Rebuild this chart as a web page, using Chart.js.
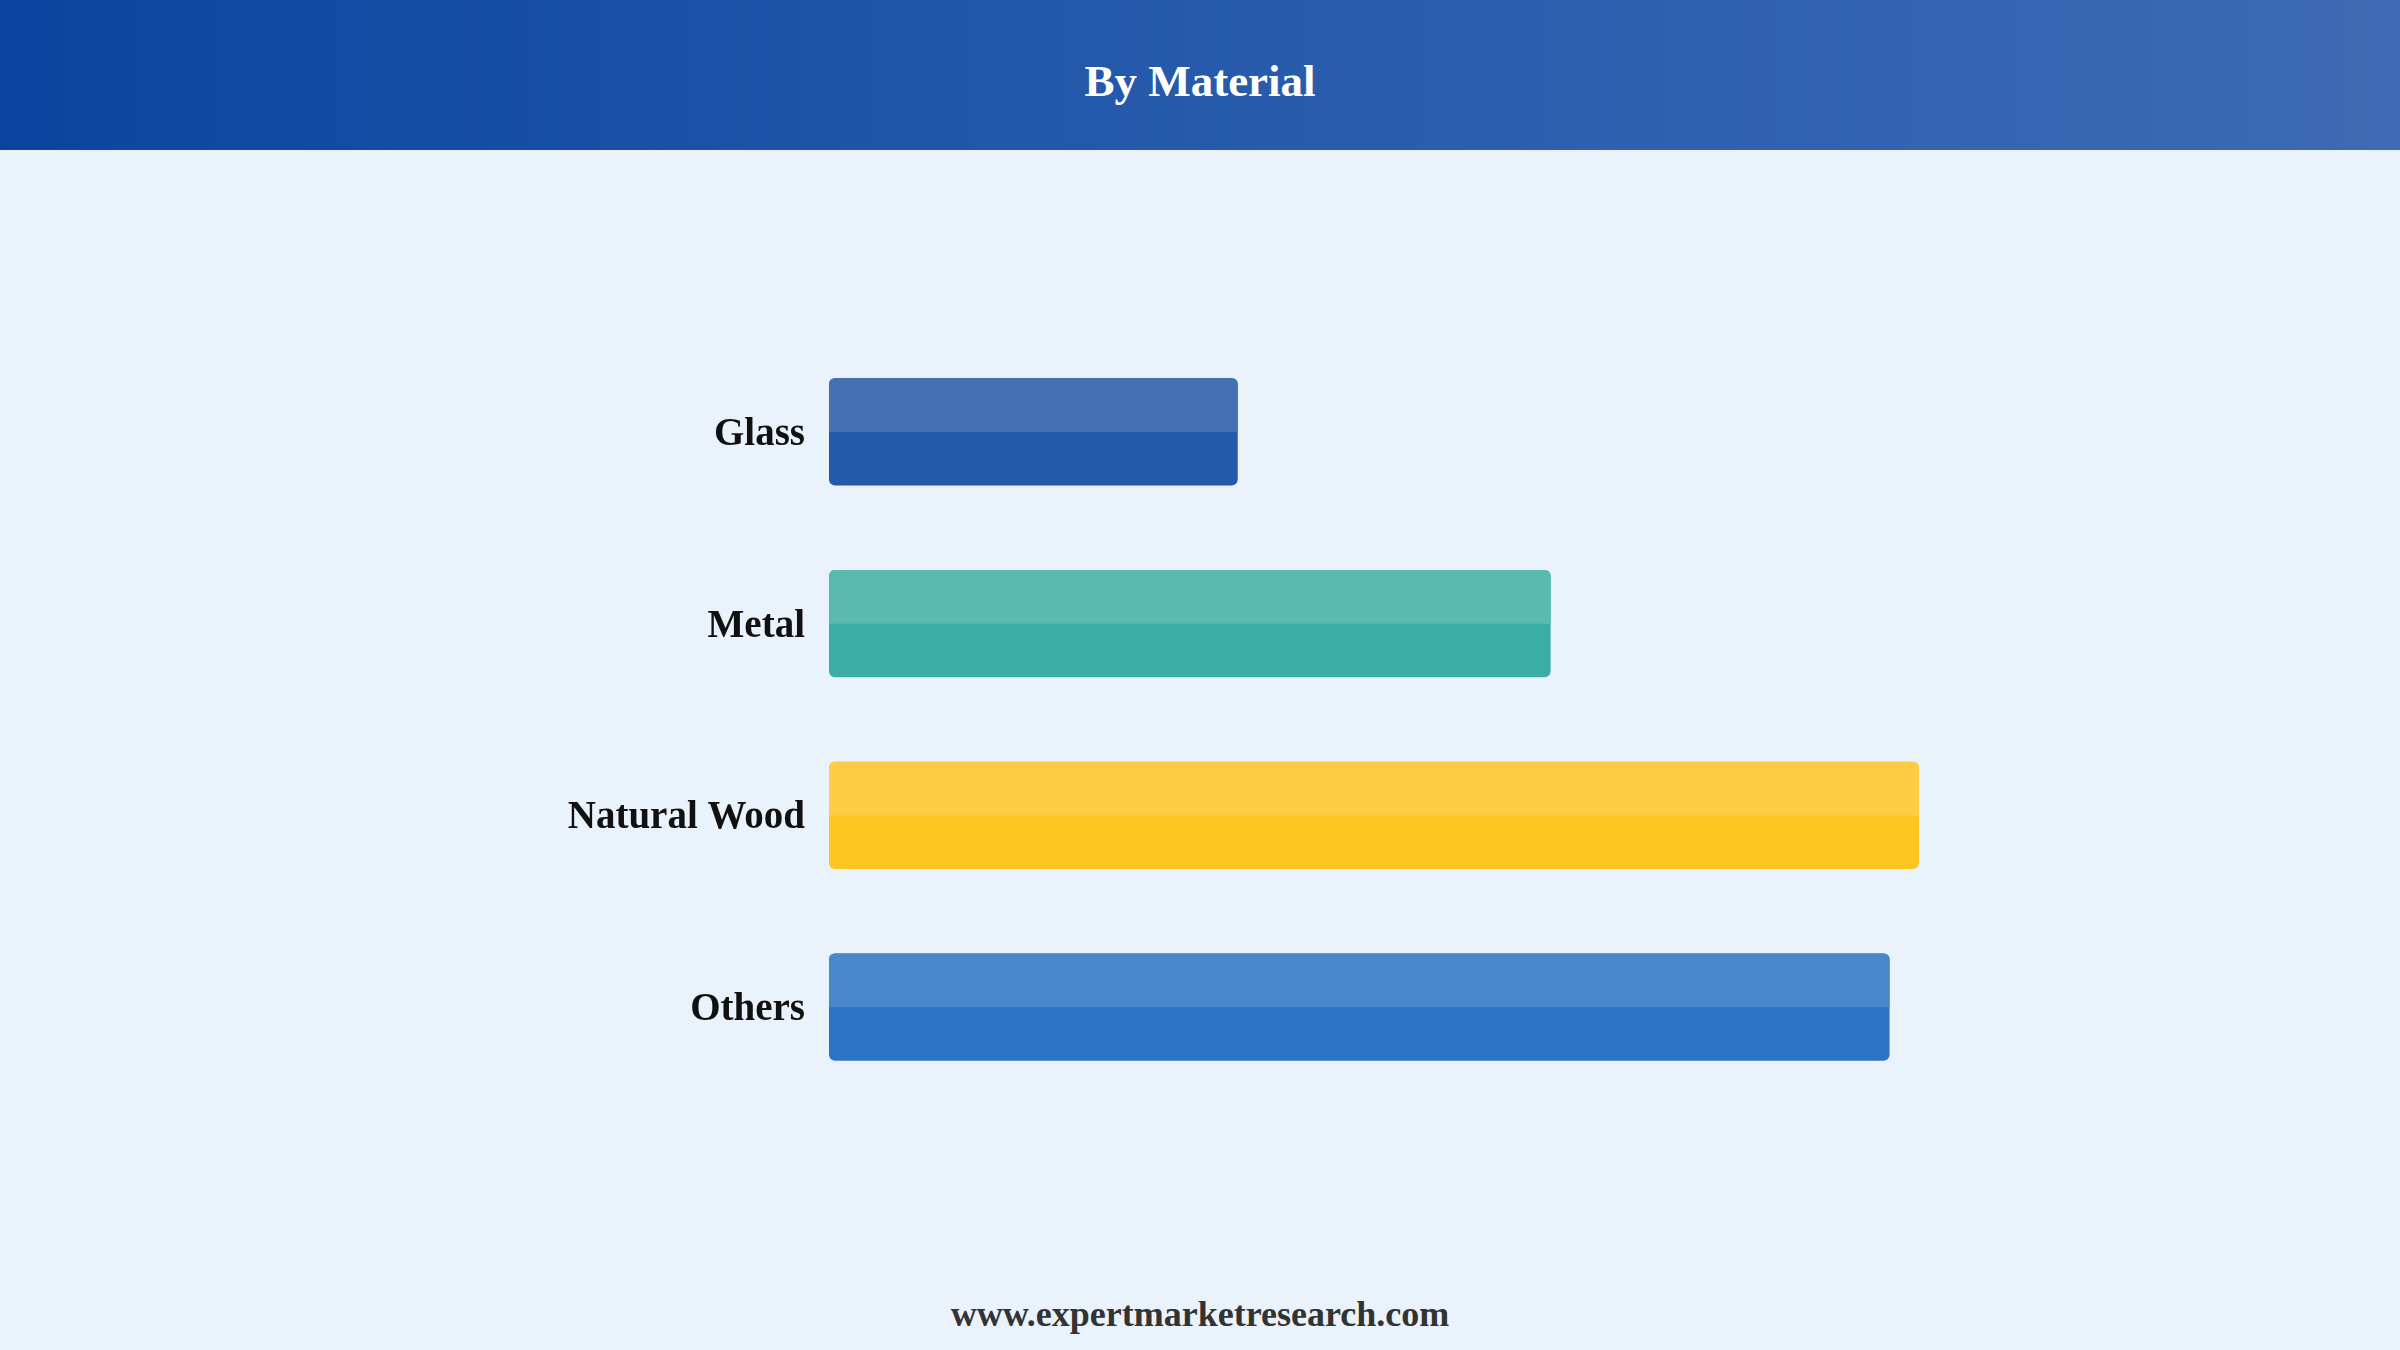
<!DOCTYPE html>
<html>
<head>
<meta charset="utf-8">
<title>By Material</title>
<script src="https://cdn.jsdelivr.net/npm/chart.js@4"></script>
<style>
	html, body {
		margin: 0;
		padding: 0;
		width: 2400px;
		height: 1350px;
		overflow: hidden;
		background: #eaf2fc;
		font-family: "Liberation Serif", "Times New Roman", serif;
	}
	.header {
		position: absolute;
		left: 0;
		top: 0;
		width: 2400px;
		height: 150px;
		background: linear-gradient(to right, #0b44a0, #2458aa 45%, #3d6bb4);
		color: #fff;
		font-weight: bold;
		font-size: 45px;
		line-height: 162px;
		text-align: center;
	}
	#chartBox {
		position: absolute;
		left: 0;
		top: 150px;
	}
	.footer {
		position: absolute;
		left: 0;
		top: 1291px;
		width: 2400px;
		text-align: center;
		font-weight: bold;
		font-size: 36px;
		line-height: 46px;
		color: #333;
	}
</style>
</head>
<body>
<div class="header">By Material</div>
<canvas id="chartBox" width="2400" height="1100"></canvas>
<div class="footer">www.expertmarketresearch.com</div>

<script>
// chart data (relative share)
const categories = ["Glass", "Metal", "Natural Wood", "Others"];
const values = [37.5, 66.2, 100, 97.3];

// colours: darker lower half, lighter upper half
const darkColors = ["#2559aa", "#3aaea5", "#fec520", "#2b74c6"];
const lightColors = ["#4271b5", "#5ab9b1", "#fecd45", "#4a88ce"];

// paints the lighter top half of each bar
const topHalfPlugin = {
	id: "topHalf",
	afterDatasetsDraw(chart) {
		const ctx = chart.ctx;
		const meta = chart.getDatasetMeta(0);
		const r = 6;
		meta.data.forEach((bar, i) => {
			const p = bar.getProps(["x", "y", "base", "height"], true);
			const left = Math.min(p.base, p.x);
			const right = Math.max(p.base, p.x);
			const top = p.y - p.height / 2;
			const mid = p.y;
			ctx.save();
			ctx.fillStyle = lightColors[i];
			ctx.beginPath();
			ctx.moveTo(left, mid);
			ctx.lineTo(left, top + r);
			ctx.quadraticCurveTo(left, top, left + r, top);
			ctx.lineTo(right - r, top);
			ctx.quadraticCurveTo(right, top, right, top + r);
			ctx.lineTo(right, mid);
			ctx.closePath();
			ctx.fill();
			ctx.restore();
		});
	}
};

const ctx = document.getElementById("chartBox").getContext("2d");

new Chart(ctx, {
	type: "bar",
	data: {
		labels: categories,
		datasets: [
			{
				data: values,
				backgroundColor: darkColors,
				borderWidth: 0,
				borderRadius: 6,
				borderSkipped: false,
				barPercentage: 0.56,
				categoryPercentage: 1,
			},
		],
	},
	options: {
		indexAxis: "y",
		responsive: false,
		devicePixelRatio: 1,
		animation: false,
		layout: {
			padding: { left: 0, right: 481, top: 186, bottom: 147 },
		},
		plugins: {
			legend: { display: false },
			tooltip: { enabled: false },
			title: { display: false },
		},
		scales: {
			x: {
				display: false,
				min: 0,
				max: 100,
			},
			y: {
				afterFit: (scale) => { scale.width = 829; },
				grid: { display: false, drawTicks: false },
				border: { display: false },
				ticks: {
					padding: 24,
					labelOffset: 3,
					color: "#111",
					font: { family: "'Liberation Serif', 'Times New Roman', serif", size: 39, weight: "bold" },
				},
			},
		},
	},
	plugins: [topHalfPlugin],
});
</script>
</body>
</html>
